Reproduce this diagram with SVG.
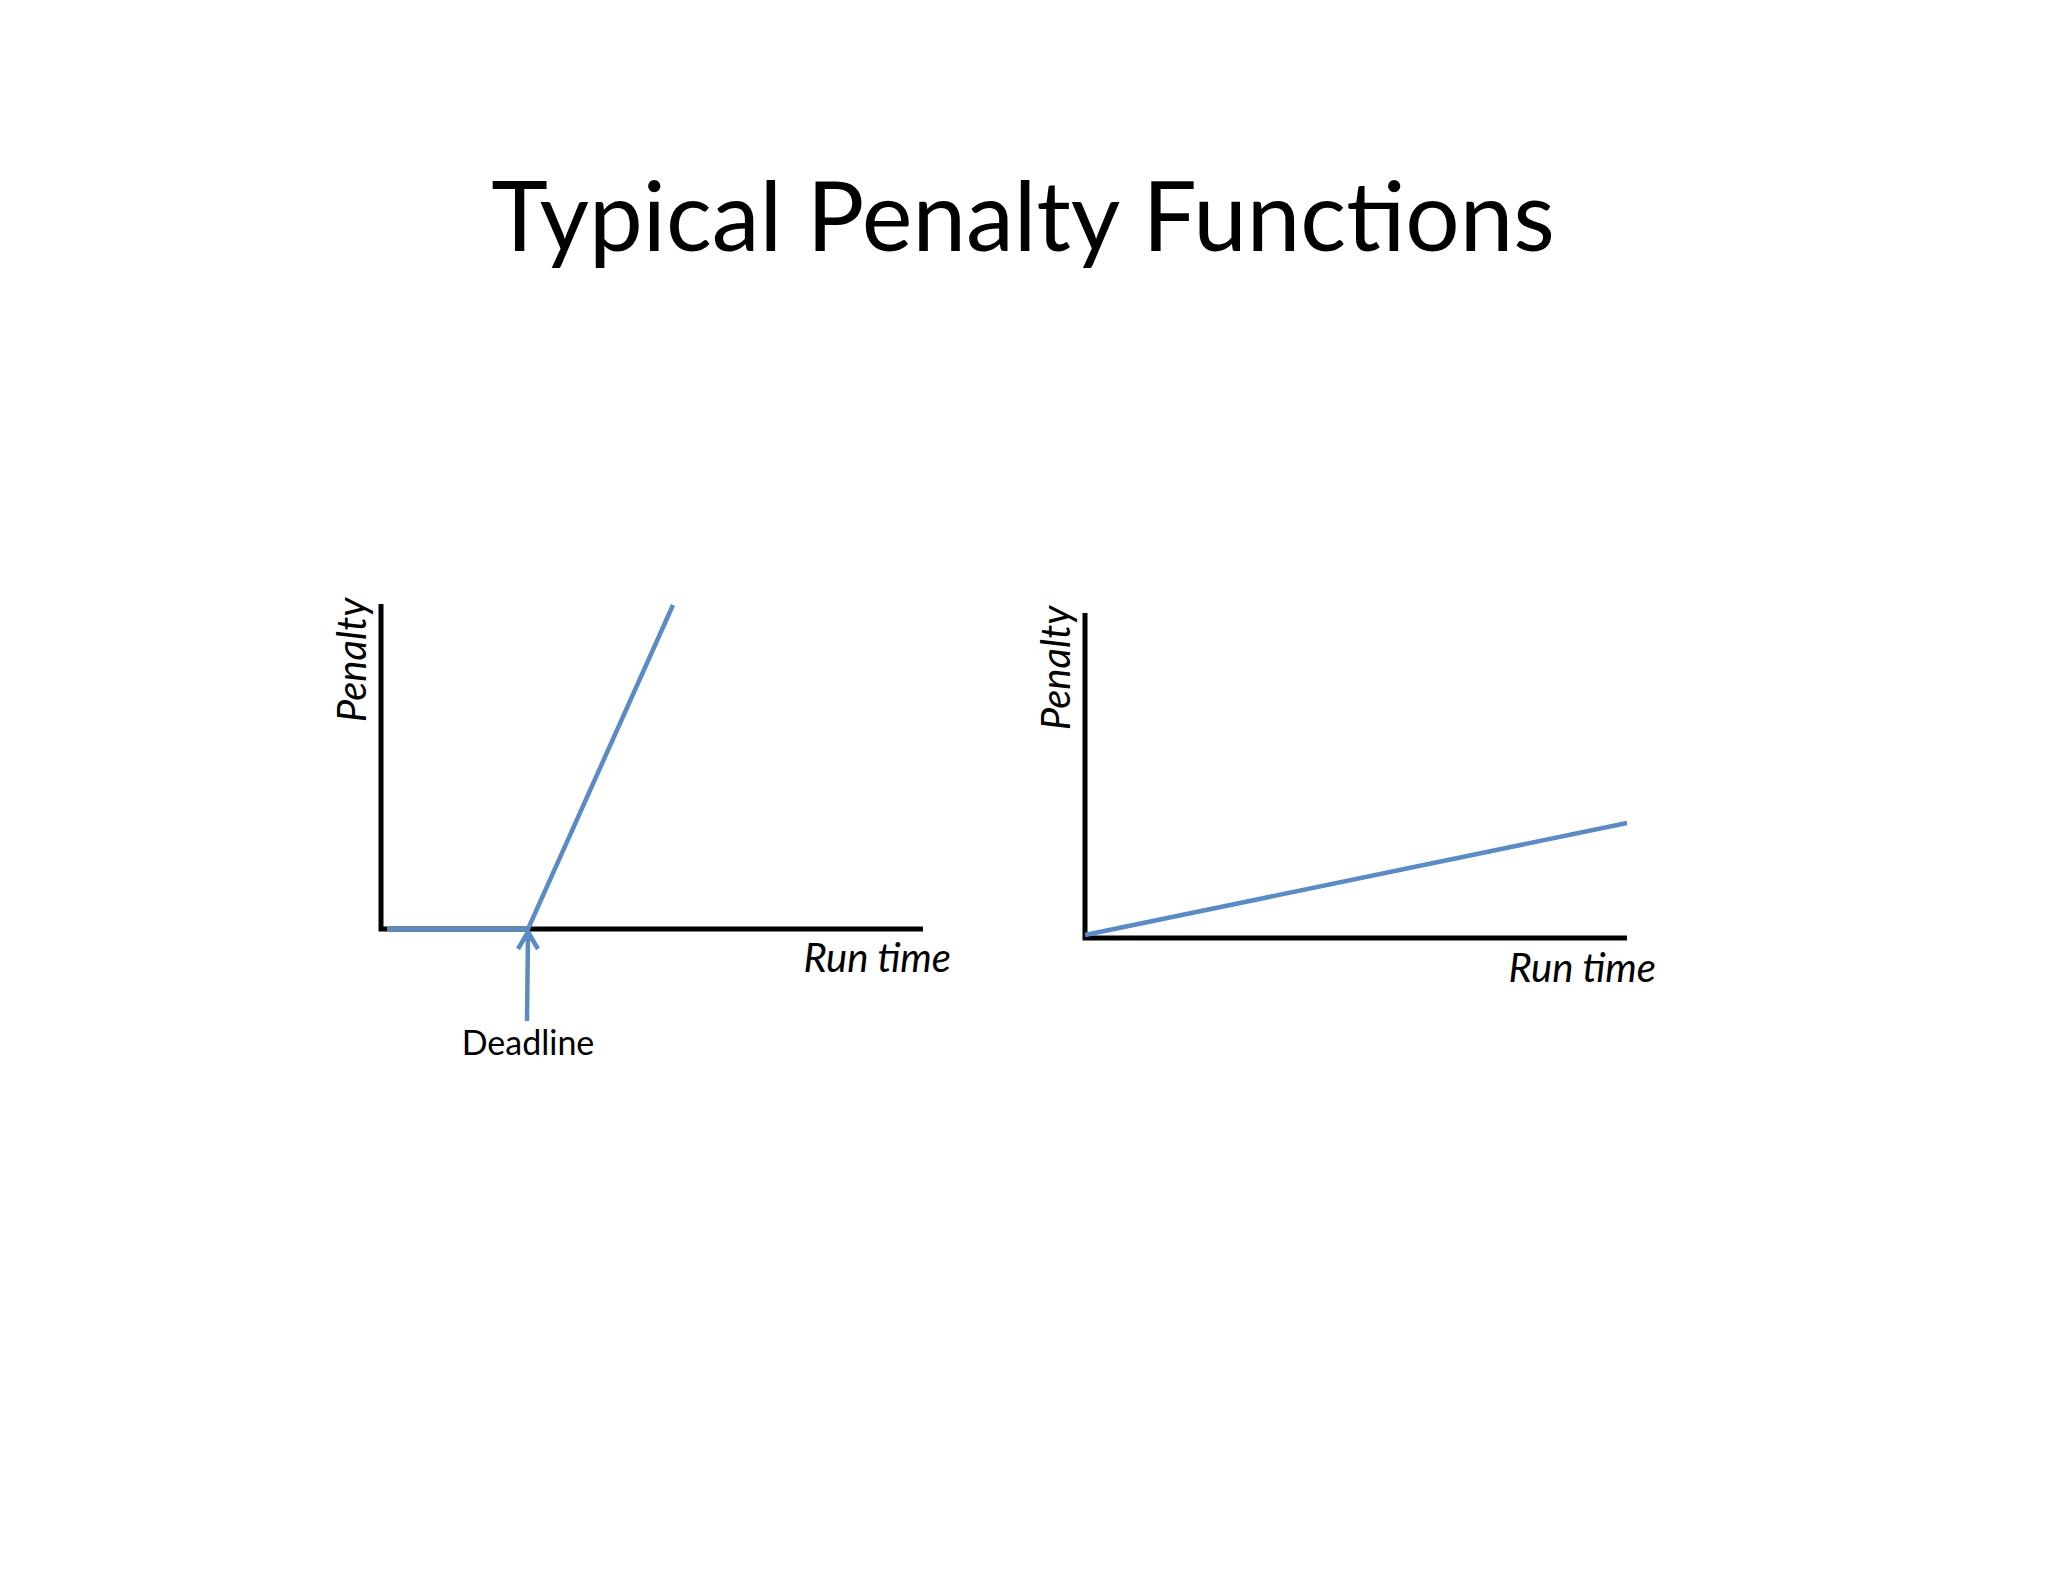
<svg xmlns="http://www.w3.org/2000/svg" width="2048" height="1582" viewBox="0 0 2048 1582">
<style>
.ax{stroke:#000;stroke-width:5;fill:none}
.bl{stroke:#5a8bc4;stroke-width:4.5;fill:none}
.t{font-family:Lato,"Open Sans",sans-serif;fill:#000}
.it{font-style:italic;font-size:40px}
</style>
<rect width="2048" height="1582" fill="#fff"/>
<text class="t" x="1023" y="251" font-size="96" text-anchor="middle">Typical Penalty Functions</text>
<g id="chart1">
<path class="ax" d="M381,604 V929 H923"/>
<path class="bl" d="M387,929 H528 L673,605"/>
<text class="t it" x="951" y="972" text-anchor="end">Run time</text>
<text class="t it" transform="translate(366,660) rotate(-90)" text-anchor="middle">Penalty</text>
</g>
<g id="chart2">
<path class="ax" d="M1085,613 V938 H1627"/>
<path class="bl" d="M1085,935 L1627,823"/>
<text class="t it" x="1656" y="982" text-anchor="end">Run time</text>
<text class="t it" transform="translate(1070,668) rotate(-90)" text-anchor="middle">Penalty</text>
</g>
<g id="connectors">
<path class="bl" d="M527,1021 L528,932 M518,949 L528,932 L538,949"/>
</g>
<g id="deadline">
<text class="t" x="528" y="1055" font-size="34" text-anchor="middle">Deadline</text>
</g>
</svg>
